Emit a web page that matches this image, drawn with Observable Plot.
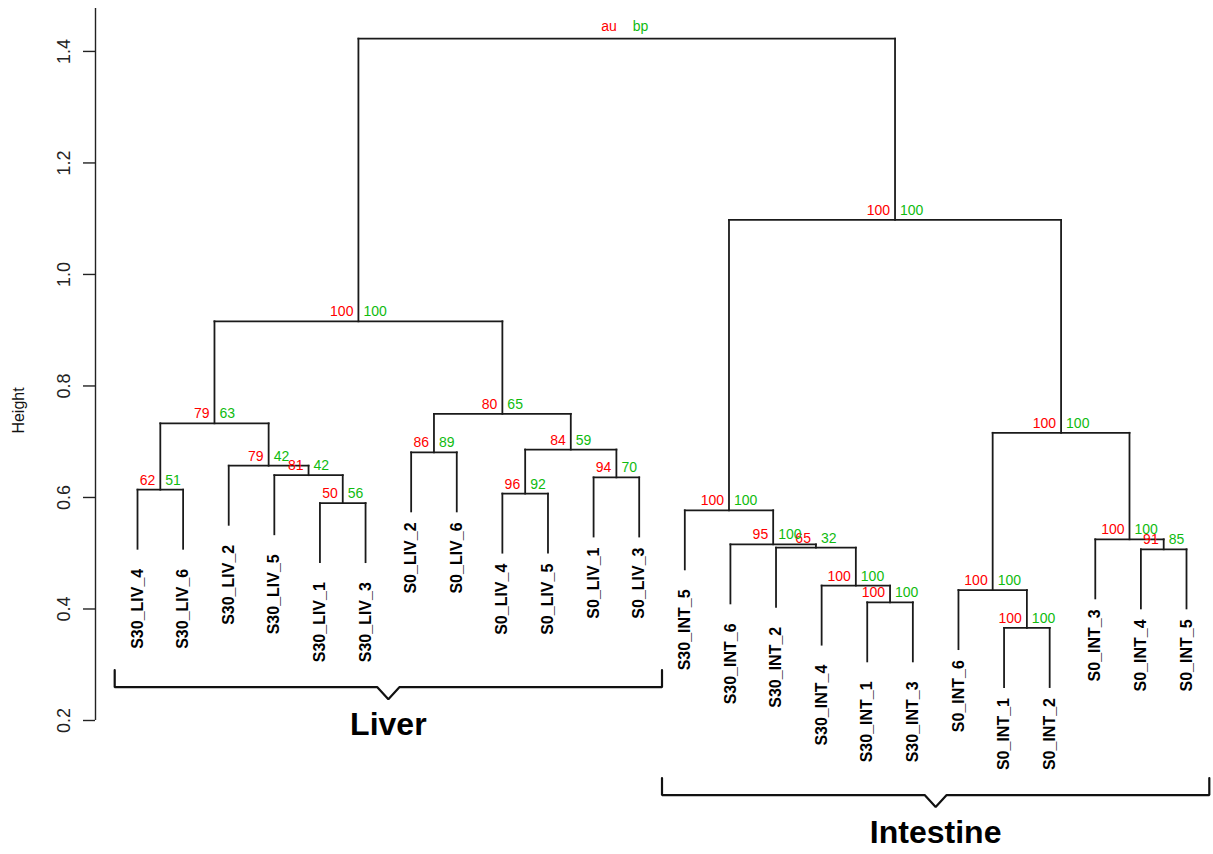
<!DOCTYPE html>
<html>
<head>
<meta charset="utf-8">
<script src="https://cdn.jsdelivr.net/npm/d3@7"></script>
<script src="https://cdn.jsdelivr.net/npm/@observablehq/plot@0.6"></script>
<style>
  html, body { margin: 0; padding: 0; background: #fff; }
  #chart svg { display: block; }
</style>
</head>
<body>
<div id="chart"></div>
<script>
// ---------------- data ----------------
const leaves = [
  "S30_LIV_4", "S30_LIV_6", "S30_LIV_2", "S30_LIV_5", "S30_LIV_1", "S30_LIV_3",
  "S0_LIV_2", "S0_LIV_6", "S0_LIV_4", "S0_LIV_5", "S0_LIV_1", "S0_LIV_3",
  "S30_INT_5", "S30_INT_6", "S30_INT_2", "S30_INT_4", "S30_INT_1", "S30_INT_3",
  "S0_INT_6", "S0_INT_1", "S0_INT_2", "S0_INT_3", "S0_INT_4", "S0_INT_5"
];
// hclust-style merges: negative = leaf number (1-based), positive = earlier merge (1-based)
const mergeLeft   = [-20, -17, -19, -16, -23, -15, -14, -22, -13, -5, -9, -1, -11, -4, -3, -7, 11, 3, 12, 16, 19, 9, 21];
const mergeRight  = [-21, -18, 1, 2, -24, 4, 6, 5, 7, -6, -10, -2, -12, 10, 14, -8, 13, 8, 15, 17, 20, 18, 22];
const mergeHeight = [0.366, 0.412, 0.434, 0.442, 0.507, 0.510, 0.516, 0.525, 0.577, 0.590, 0.607, 0.614,
                     0.636, 0.640, 0.657, 0.681, 0.686, 0.716, 0.733, 0.750, 0.916, 1.098, 1.423];
// AU / BP values for every merge except the root
const auValues = [100, 100, 100, 100, 91, 65, 95, 100, 100, 50, 96, 62, 94, 81, 79, 86, 84, 100, 79, 80, 100, 100];
const bpValues = [100, 100, 100, 100, 85, 32, 100, 100, 100, 56, 92, 51, 70, 42, 42, 89, 59, 100, 63, 65, 100, 100];
const rootLegend = ["au", "bp"];
const tickValues = [0.2, 0.4, 0.6, 0.8, 1.0, 1.2, 1.4];
const groupLabels = ["Liver", "Intestine"];
const groupFirst  = ["S30_LIV_4", "S30_INT_5"];
const groupLast   = ["S0_LIV_3", "S0_INT_5"];
const leafHang = 0.106;

// ---------------- layout ----------------
const W = 1213, H = 854;
const margin = {top: 8, right: 0, bottom: 134, left: 95};
const xDomain = [0.079, 24.592];
const yDomain = [0.2, 1.477];
const xs = d3.scaleLinear(xDomain, [margin.left, W - margin.right]);
const ys = d3.scaleLinear(yDomain, [H - margin.bottom, margin.top]);
const FONT = "'Liberation Sans', Arial, Helvetica, sans-serif";
const RED = "#ff0000", GREEN = "#10bb10";

// ---------------- tree geometry ----------------
const nodeX = [];
const childX = c => c < 0 ? -c : nodeX[c - 1];
mergeHeight.forEach((h, i) => { nodeX[i] = (childX(mergeLeft[i]) + childX(mergeRight[i])) / 2; });
const segments = [];
const leafEnd = new Array(leaves.length);
mergeHeight.forEach((h, i) => {
  const a = mergeLeft[i], b = mergeRight[i];
  segments.push({x1: childX(a), y1: h, x2: childX(b), y2: h});
  for (const c of [a, b]) {
    const bottom = c < 0 ? h - leafHang : mergeHeight[c - 1];
    if (c < 0) leafEnd[-c - 1] = bottom;
    segments.push({x1: childX(c), y1: h, x2: childX(c), y2: bottom});
  }
});

const nodes = auValues.map((au, i) => ({x: nodeX[i], h: mergeHeight[i], au, bp: bpValues[i]}));
const rootIdx = mergeHeight.length - 1;
const root = [{x: nodeX[rootIdx], h: mergeHeight[rootIdx], au: rootLegend[0], bp: rootLegend[1]}];

// leaf labels
const ctx = document.createElement("canvas").getContext("2d");
ctx.font = `bold 16px ${FONT}`;
const leafData = leaves.map((name, i) => {
  const gap = 11 + 9 * (name.length - 8);
  const topPx = ys(leafEnd[i]) + gap;
  const len = ctx.measureText(name).width;
  return {name, x: i + 1, y: ys.invert(topPx), bottomPx: topPx + len};
});

// group brackets
const bracketPts = [];
const groupText = [];
groupLabels.forEach((label, g) => {
  const i0 = leaves.indexOf(groupFirst[g]), i1 = leaves.indexOf(groupLast[g]);
  const lowest = d3.max(leafData.slice(i0, i1 + 1), d => d.bottomPx);
  const top = lowest + 8, horiz = top + 17, tip = horiz + 12;
  const left = i0 + 1 - 0.5, right = i1 + 1 + 0.5, mid = (left + right) / 2;
  const midPx = xs(mid);
  const pts = [[left, top], [left, horiz], [xs.invert(midPx - 11), horiz], [mid, tip],
               [xs.invert(midPx + 11), horiz], [right, horiz], [right, top]];
  pts.forEach(([x, yPx]) => bracketPts.push({group: label, x, y: ys.invert(yPx)}));
  groupText.push({label, x: mid, y: ys.invert(horiz + 48)});
});

// ---------------- plot ----------------
const chart = Plot.plot({
  width: W, height: H,
  marginTop: margin.top, marginRight: margin.right, marginBottom: margin.bottom, marginLeft: margin.left,
  style: {fontFamily: FONT, background: "#fff", color: "#000", overflow: "visible"},
  x: {domain: xDomain, axis: null},
  y: {domain: yDomain},
  marks: [
    Plot.axisY({ticks: tickValues, tickSize: 12, tickFormat: () => "", label: null, strokeWidth: 1.4, stroke: "#222"}),
    Plot.ruleX([xDomain[0]], {y1: yDomain[0], y2: yDomain[1], stroke: "#222", strokeWidth: 1.4}),
    Plot.text(tickValues, {y: d => d, frameAnchor: "left", dx: -31, rotate: -90, text: d => d.toFixed(1),
      fontSize: 18, textAnchor: "middle", lineAnchor: "middle", fill: "#222"}),
    Plot.text(["Height"], {frameAnchor: "left", y: 0.756, dx: -77, rotate: -90, text: d => d,
      fontSize: 16, textAnchor: "middle", lineAnchor: "middle", fill: "#111"}),
    Plot.link(segments, {x1: "x1", y1: "y1", x2: "x2", y2: "y2", stroke: "#1a1a1a", strokeWidth: 1.8, strokeLinecap: "square"}),
    Plot.text(nodes, {x: "x", y: "h", text: "au", fill: RED, fontSize: 14, textAnchor: "end", lineAnchor: "bottom", dx: -5, dy: -5}),
    Plot.text(nodes, {x: "x", y: "h", text: "bp", fill: GREEN, fontSize: 14, textAnchor: "start", lineAnchor: "bottom", dx: 5, dy: -5}),
    Plot.text(root, {x: "x", y: "h", text: "au", fill: RED, fontSize: 14, textAnchor: "end", lineAnchor: "bottom", dx: -10, dy: -8}),
    Plot.text(root, {x: "x", y: "h", text: "bp", fill: GREEN, fontSize: 14, textAnchor: "start", lineAnchor: "bottom", dx: 6, dy: -8}),
    Plot.text(leafData, {x: "x", y: "y", text: "name", rotate: -90, textAnchor: "end", lineAnchor: "middle",
      fontSize: 16, fontWeight: "bold", fill: "#000"}),
    Plot.line(bracketPts, {x: "x", y: "y", z: "group", stroke: "#111", strokeWidth: 2.2, strokeLinejoin: "miter"}),
    Plot.text(groupText, {x: "x", y: "y", text: "label", fontSize: 32, fontWeight: "bold", lineAnchor: "bottom", fill: "#000"})
  ]
});
document.getElementById("chart").appendChild(chart);
</script>
</body>
</html>
